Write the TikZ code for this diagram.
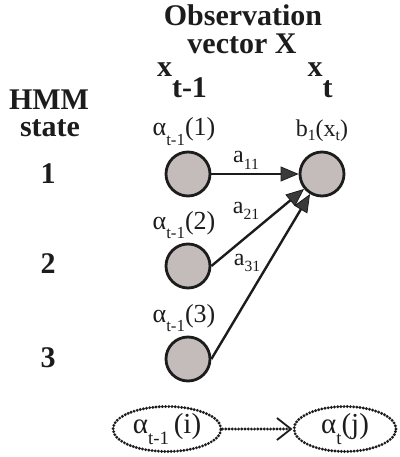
\documentclass[tikz,border=0pt]{standalone}
\usepackage{fontspec}
\setmainfont{Liberation Serif}
\usepackage{graphicx}
\usetikzlibrary{arrows.meta,shapes.geometric}

\definecolor{stategray}{HTML}{C4BCBA}
\definecolor{tipgray}{HTML}{3A3A3A}
\definecolor{inkblack}{HTML}{1C1C1C}

\newcommand{\dn}[2][0.35em]{\raisebox{-#1}{\scalebox{0.65}{#2}}}

\begin{document}
\begin{tikzpicture}[
    x=10pt, y=10pt,
    head/.style={font=\fontsize{30}{32}\selectfont\bfseries,
                 text=inkblack, anchor=base, inner sep=0pt},
    obs/.style={font=\fontsize{30}{32}\selectfont\bfseries,
                text=inkblack, anchor=base, inner sep=0pt},
    hmmnode/.style={circle, draw=inkblack, line width=2.8pt,
                    fill=stategray, minimum size=44pt, inner sep=0pt},
    lbl/.style={font=\fontsize{26}{28}\selectfont, text=inkblack,
                anchor=base, inner sep=0pt},
    smlbl/.style={font=\fontsize{24}{26}\selectfont, text=inkblack,
                  anchor=base, inner sep=0pt},
    trans/.style={draw=inkblack, line width=2.4pt,
                  -{Triangle[length=18pt, width=15pt, line width=0.8pt,
                    fill=tipgray]}},
    dotted line/.style={draw=inkblack, line width=3.2pt,
                        dash pattern=on 0pt off 3.2pt, line cap=round},
    dotell/.style={dotted line, ellipse, minimum height=45pt,
                   inner sep=0pt, font=\fontsize{29}{31}\selectfont,
                   text=inkblack},
    dotarrow/.style={dotted line,
                     -{Straight Barb[length=14pt, width=22pt,
                       line width=1.8pt]}},
]
\useasboundingbox (0,0) rectangle (39.9,-45.7);

% --- Headers ---
\node[head] (obs1) at (24.3,-2.6) {Observation};
\node[head] (obs2) at (24.2,-5.4) {vector X};
\node[obs] (xprev) at (18.2,-7.7) {x\raisebox{-0.7em}{t-1}};
\node[obs] (xcur)  at (32.0,-7.7) {x\raisebox{-0.7em}{t}};

\node[head] (hmm) at (4.9,-11.0) {HMM};
\node[head] (stt) at (5.0,-13.7) {state};
\node[head] (n1) at (4.8,-18.3) {1};
\node[head] (n2) at (4.8,-27.3) {2};
\node[head] (n3) at (4.8,-36.7) {3};

% --- States ---
\node[hmmnode] (p1)  at (18.8,-17.4) {};
\node[hmmnode] (p2)  at (18.8,-26.6) {};
\node[hmmnode] (p3)  at (18.8,-35.9) {};
\node[hmmnode] (cur) at (32.2,-17.4) {};

\node[lbl] (al1) at (18.4,-13.6) {α\dn{t-1}(1)};
\node[lbl] (al2) at (18.4,-22.9) {α\dn{t-1}(2)};
\node[lbl] (al3) at (18.4,-32.2) {α\dn{t-1}(3)};
\node[smlbl] (bl) at (32.2,-13.7) {b\dn[0.15em]{1}(x\dn[0.15em]{t})};

% --- Transitions ---
\draw[trans] (p1) -- (cur);
\draw[trans] (p2.east) -- (cur);
\draw[trans] (p3.east) -- (cur);

\node[smlbl] (a11) at (24.6,-16.3) {a\dn[0.25em]{11}};
\node[smlbl] (a21) at (24.6,-21.3) {a\dn[0.25em]{21}};
\node[smlbl] (a31) at (24.7,-26.5) {a\dn[0.25em]{31}};

% --- Recursion ---
\node[dotell, minimum width=108pt] (ai) at (16.7,-42.9)
    {α\dn{t-1}\,(i)};
\node[dotell, minimum width=102pt] (aj) at (34.5,-42.9)
    {α\dn{t}(j)};
\draw[dotarrow] (ai) -- (aj);

\end{tikzpicture}
\end{document}
